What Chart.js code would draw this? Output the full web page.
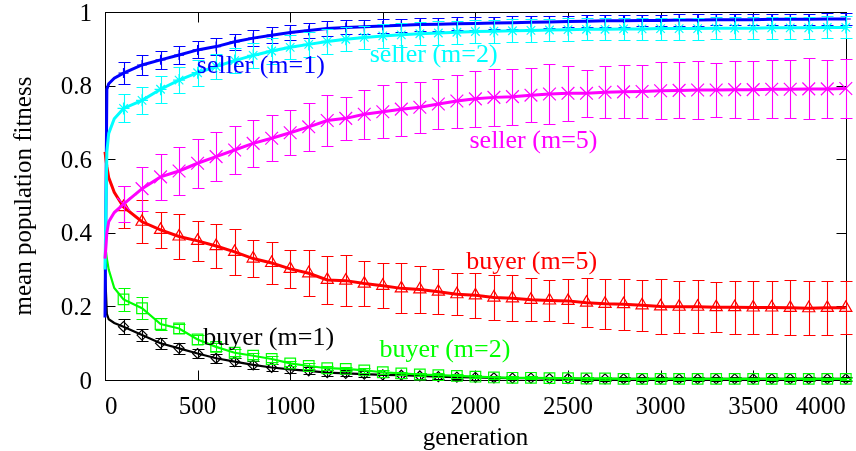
<!DOCTYPE html>
<html>
<head>
<meta charset="utf-8">
<title>mean population fitness</title>
<script src="https://cdn.jsdelivr.net/npm/chart.js@4/dist/chart.umd.min.js"></script>
<style>
  html, body { margin: 0; padding: 0; background: #fff; overflow: hidden; }
  canvas { display: block; }
</style>
</head>
<body>
<canvas id="fitness" width="856" height="451"></canvas>
<script>
// Generations at which the population averages are plotted
const generations = [0, 10, 20, 50,
  100, 200, 300, 400, 500, 600, 700, 800, 900, 1000,
  1100, 1200, 1300, 1400, 1500, 1600, 1700, 1800, 1900, 2000,
  2100, 2200, 2300, 2400, 2500, 2600, 2700, 2800, 2900, 3000,
  3100, 3200, 3300, 3400, 3500, 3600, 3700, 3800, 3900, 4000];

// Mean fitness per population
const sellerM1 = [0.17, 0.79, 0.805, 0.82,
  0.834, 0.856, 0.870, 0.883, 0.897, 0.906, 0.919, 0.929, 0.937, 0.944,
  0.950, 0.955, 0.958, 0.960, 0.962, 0.964, 0.966, 0.967, 0.968, 0.969,
  0.970, 0.971, 0.972, 0.973, 0.974, 0.975, 0.976, 0.976, 0.977, 0.977,
  0.978, 0.978, 0.979, 0.979, 0.979, 0.980, 0.980, 0.980, 0.981, 0.981];
const sellerM2 = [0.30, 0.62, 0.67, 0.71,
  0.738, 0.760, 0.790, 0.815, 0.835, 0.852, 0.868, 0.882, 0.894, 0.904,
  0.912, 0.920, 0.926, 0.931, 0.935, 0.938, 0.941, 0.943, 0.945, 0.947,
  0.948, 0.949, 0.950, 0.951, 0.952, 0.953, 0.953, 0.954, 0.954, 0.955,
  0.955, 0.955, 0.956, 0.956, 0.956, 0.957, 0.957, 0.957, 0.958, 0.958];
const sellerM5 = [0.33, 0.40, 0.43, 0.455,
  0.478, 0.520, 0.552, 0.568, 0.589, 0.607, 0.625, 0.643, 0.657, 0.672,
  0.688, 0.705, 0.711, 0.722, 0.729, 0.736, 0.741, 0.750, 0.758, 0.764,
  0.768, 0.770, 0.774, 0.777, 0.779, 0.779, 0.782, 0.783, 0.784, 0.786,
  0.787, 0.788, 0.788, 0.789, 0.789, 0.790, 0.790, 0.791, 0.791, 0.792];
const buyerM5 = [0.62, 0.58, 0.55, 0.51,
  0.470, 0.430, 0.408, 0.390, 0.378, 0.364, 0.348, 0.330, 0.318, 0.302,
  0.290, 0.272, 0.270, 0.262, 0.256, 0.249, 0.246, 0.240, 0.233, 0.230,
  0.224, 0.222, 0.218, 0.216, 0.215, 0.210, 0.207, 0.206, 0.203, 0.200,
  0.199, 0.199, 0.198, 0.198, 0.197, 0.197, 0.196, 0.195, 0.196, 0.196];
const buyerM2 = [0.37, 0.33, 0.30, 0.25,
  0.219, 0.195, 0.152, 0.140, 0.110, 0.090, 0.074, 0.066, 0.057, 0.045,
  0.038, 0.032, 0.030, 0.026, 0.021, 0.018, 0.015, 0.013, 0.011, 0.009,
  0.007, 0.006, 0.006, 0.005, 0.005, 0.004, 0.004, 0.003, 0.003, 0.003,
  0.003, 0.003, 0.003, 0.003, 0.003, 0.003, 0.003, 0.003, 0.003, 0.003];
const buyerM1 = [0.30, 0.18, 0.165, 0.155,
  0.145, 0.122, 0.100, 0.086, 0.072, 0.059, 0.050, 0.041, 0.034, 0.029,
  0.025, 0.020, 0.018, 0.016, 0.014, 0.013, 0.011, 0.009, 0.008, 0.007,
  0.006, 0.005, 0.005, 0.004, 0.004, 0.003, 0.003, 0.003, 0.003, 0.003,
  0.003, 0.003, 0.003, 0.003, 0.003, 0.003, 0.003, 0.003, 0.003, 0.003];

// Standard deviation across runs (sampled every 100 generations)
const sdSellerM1 = [null, null, null, null,
  0.030, 0.027, 0.025, 0.024, 0.023, 0.022, 0.022, 0.022, 0.021, 0.020,
  0.020, 0.020, 0.019, 0.019, 0.019, 0.018, 0.018, 0.018, 0.018, 0.017,
  0.017, 0.017, 0.017, 0.017, 0.016, 0.016, 0.016, 0.016, 0.016, 0.016,
  0.016, 0.016, 0.015, 0.015, 0.015, 0.015, 0.015, 0.015, 0.015, 0.015];
const sdSellerM2 = [null, null, null, null,
  0.038, 0.036, 0.036, 0.035, 0.035, 0.035, 0.034, 0.034, 0.034, 0.033,
  0.033, 0.033, 0.033, 0.032, 0.032, 0.032, 0.032, 0.032, 0.031, 0.031,
  0.031, 0.031, 0.031, 0.031, 0.031, 0.030, 0.030, 0.030, 0.030, 0.030,
  0.030, 0.030, 0.030, 0.030, 0.030, 0.030, 0.030, 0.030, 0.030, 0.030];
const sdSellerM5 = [null, null, null, null,
  0.050, 0.060, 0.063, 0.066, 0.066, 0.066, 0.066, 0.064, 0.062, 0.061,
  0.066, 0.070, 0.059, 0.066, 0.072, 0.074, 0.069, 0.069, 0.072, 0.076,
  0.078, 0.076, 0.073, 0.082, 0.075, 0.064, 0.071, 0.072, 0.071, 0.078,
  0.076, 0.079, 0.074, 0.078, 0.079, 0.079, 0.079, 0.083, 0.079, 0.079];
const sdBuyerM5 = [null, null, null, null,
  0.057, 0.059, 0.048, 0.060, 0.054, 0.059, 0.063, 0.051, 0.057, 0.052,
  0.063, 0.066, 0.070, 0.061, 0.061, 0.068, 0.063, 0.061, 0.057, 0.062,
  0.061, 0.062, 0.059, 0.057, 0.059, 0.066, 0.068, 0.069, 0.070, 0.074,
  0.071, 0.072, 0.068, 0.072, 0.071, 0.072, 0.075, 0.074, 0.074, 0.072];
const sdBuyerM2 = [null, null, null, null,
  0.032, 0.030, 0.016, 0.013, 0.011, 0.010, 0.009, 0.008, 0.008, 0.007,
  0.007, 0.006, 0.006, 0.006, 0.005, 0.005, 0.005, 0.005, 0.005, 0.004,
  0.004, 0.004, 0.004, 0.004, 0.004, 0.003, 0.003, 0.003, 0.003, 0.003,
  0.003, 0.003, 0.003, 0.003, 0.003, 0.003, 0.003, 0.003, 0.003, 0.003];
const sdBuyerM1 = [null, null, null, null,
  0.020, 0.017, 0.015, 0.014, 0.013, 0.012, 0.011, 0.010, 0.010, 0.009,
  0.009, 0.008, 0.008, 0.008, 0.007, 0.007, 0.007, 0.006, 0.006, 0.006,
  0.006, 0.005, 0.005, 0.005, 0.005, 0.005, 0.005, 0.005, 0.005, 0.005,
  0.005, 0.005, 0.005, 0.005, 0.005, 0.005, 0.005, 0.005, 0.005, 0.005];

// Axis ticks
const xTicks = [0, 500, 1000, 1500, 2000, 2500, 3000, 3500, 4000];
const yTicks = [0, 0.2, 0.4, 0.6, 0.8, 1];

const SERIF = "'Liberation Serif', 'Times New Roman', Times, serif";
Chart.defaults.font.family = SERIF;
Chart.defaults.color = '#000';

// Curve names written next to each curve, anchored in data coordinates
const curveNames = [
  { text: 'seller (m=1)', gen: 496,  value: 0.853, color: '#0000ff' },
  { text: 'seller (m=2)', gen: 1429, value: 0.884, color: '#00ffff' },
  { text: 'seller (m=5)', gen: 1968, value: 0.648, color: '#ff00ff' },
  { text: 'buyer (m=5)',  gen: 1950, value: 0.319, color: '#ff0000' },
  { text: 'buyer (m=1)',  gen: 530,  value: 0.113, color: '#000000' },
  { text: 'buyer (m=2)',  gen: 1482, value: 0.080, color: '#00ff00' }
];

function series(label, values, sd, color, style, radius, width) {
  return {
    label: label,
    data: generations.map((g, i) => ({ x: g, y: values[i] })),
    errors: sd,
    borderColor: color,
    backgroundColor: 'rgba(0,0,0,0)',
    borderWidth: width,
    tension: 0,
    clip: 14,
    pointStyle: style,
    pointRadius: ctx => (sd[ctx.dataIndex] != null ? radius : 0),
    pointHoverRadius: 0,
    pointBorderColor: color,
    pointBackgroundColor: 'rgba(0,0,0,0)',
    pointBorderWidth: 1.2
  };
}

// Box with inward ticks on all four sides
const frameTicks = {
  id: 'frameTicks',
  beforeDatasetsDraw(chart) {
    const { ctx, chartArea: a, scales: { x, y } } = chart;
    const L = Math.round(a.left) + 0.5, R = Math.round(a.right) + 0.5;
    const T = Math.round(a.top) + 0.5, B = Math.round(a.bottom) + 0.5;
    ctx.save();
    ctx.strokeStyle = '#000';
    ctx.lineWidth = 1;
    ctx.beginPath();
    xTicks.forEach(v => {
      const px = Math.round(x.getPixelForValue(v)) + 0.5;
      ctx.moveTo(px, B); ctx.lineTo(px, B - 10);
      ctx.moveTo(px, T); ctx.lineTo(px, T + 10);
    });
    yTicks.forEach(v => {
      const py = Math.round(y.getPixelForValue(v)) + 0.5;
      ctx.moveTo(L, py); ctx.lineTo(L + 10, py);
      ctx.moveTo(R, py); ctx.lineTo(R - 10, py);
    });
    ctx.stroke();
    ctx.strokeRect(L, T, R - L, B - T);
    ctx.restore();
  }
};

// Vertical error bars with caps, drawn with each dataset
const errorBars = {
  id: 'errorBars',
  afterDatasetDraw(chart, args) {
    const ds = chart.data.datasets[args.index];
    if (!ds.errors) return;
    const { ctx, scales: { x, y } } = chart;
    ctx.save();
    ctx.strokeStyle = ds.borderColor;
    ctx.lineWidth = 1.1;
    ctx.beginPath();
    ds.data.forEach((p, i) => {
      const e = ds.errors[i];
      if (e == null) return;
      const px = Math.round(x.getPixelForValue(p.x)) + 0.5;
      const yHi = Math.round(y.getPixelForValue(p.y + e)) + 0.5;
      const yLo = Math.round(y.getPixelForValue(p.y - e)) + 0.5;
      ctx.moveTo(px, yHi); ctx.lineTo(px, yLo);
      ctx.moveTo(px - 6, yHi); ctx.lineTo(px + 6, yHi);
      ctx.moveTo(px - 6, yLo); ctx.lineTo(px + 6, yLo);
    });
    ctx.stroke();
    ctx.restore();
  }
};

// Curve names
const curveLabels = {
  id: 'curveLabels',
  afterDatasetsDraw(chart) {
    const { ctx, scales: { x, y } } = chart;
    ctx.save();
    ctx.font = '26px ' + SERIF;
    ctx.textAlign = 'left';
    ctx.textBaseline = 'middle';
    curveNames.forEach(n => {
      ctx.fillStyle = n.color;
      ctx.fillText(n.text, x.getPixelForValue(n.gen), y.getPixelForValue(n.value));
    });
    ctx.restore();
  }
};

new Chart(document.getElementById('fitness'), {
  type: 'line',
  data: {
    datasets: [
      series('seller (m=5)', sellerM5, sdSellerM5, '#ff00ff', 'crossRot', 9, 3),
      series('seller (m=2)', sellerM2, sdSellerM2, '#00ffff', 'star', 6, 3),
      series('buyer (m=2)',  buyerM2,  sdBuyerM2,  '#00ff00', 'rect', 7.5, 2.2),
      series('buyer (m=5)',  buyerM5,  sdBuyerM5,  '#ff0000', 'triangle', 7, 3),
      series('seller (m=1)', sellerM1, sdSellerM1, '#0000ff', 'cross', 5, 3),
      series('buyer (m=1)',  buyerM1,  sdBuyerM1,  '#000000', 'rectRot', 5, 2.2)
    ]
  },
  options: {
    responsive: false,
    animation: false,
    events: [],
    layout: { padding: { left: 0, right: 9, top: 12, bottom: 0 } },
    plugins: { legend: { display: false }, tooltip: { enabled: false } },
    scales: {
      x: {
        type: 'linear',
        min: 0,
        max: 4000,
        grid: { display: false, drawTicks: false },
        border: { display: false },
        ticks: {
          stepSize: 500,
          autoSkip: false,
          maxRotation: 0,
          align: 'inner',
          padding: 12,
          font: { size: 25, family: SERIF },
          color: '#000',
          callback: v => String(v)
        },
        title: {
          display: true,
          text: 'generation',
          color: '#000',
          font: { size: 25, family: SERIF, lineHeight: 1 },
          padding: { top: 0, bottom: 0 }
        },
        afterFit: s => { s.height = 71; s.paddingLeft = 0; s.paddingRight = 0; }
      },
      y: {
        min: 0,
        max: 1,
        grid: { display: false, drawTicks: false },
        border: { display: false },
        ticks: {
          stepSize: 0.2,
          padding: 13,
          labelOffset: 2,
          font: { size: 25, family: SERIF },
          color: '#000',
          callback: v => String(Math.round(v * 10) / 10)
        },
        title: {
          display: true,
          text: 'mean population fitness',
          color: '#000',
          font: { size: 25, family: SERIF, lineHeight: 1 },
          padding: { top: 12, bottom: 0 }
        },
        afterFit: s => { s.width = 105; s.paddingTop = 0; s.paddingBottom = 0; }
      }
    }
  },
  plugins: [frameTicks, errorBars, curveLabels]
});
</script>
</body>
</html>
